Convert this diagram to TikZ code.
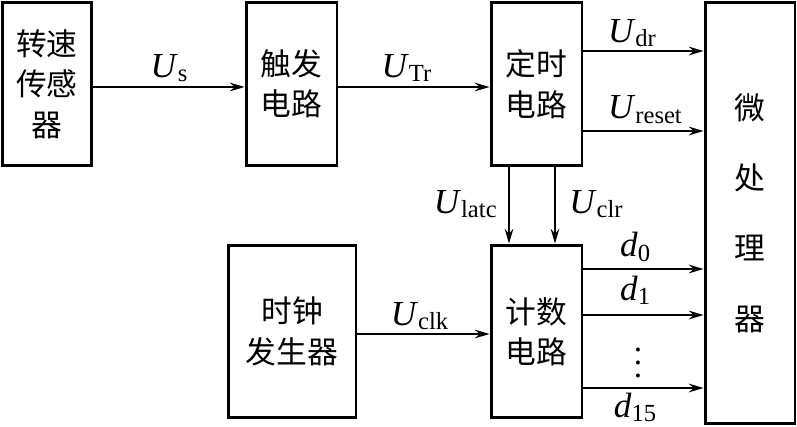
\documentclass[tikz,border=0pt]{standalone}
\usepackage{fontspec}
\setmainfont{Liberation Serif}
\newfontfamily\cjk{Noto Sans CJK SC}
\usetikzlibrary{arrows.meta,positioning}

% signal name with lowered subscript
\newcommand{\sig}[2]{\textit{#1}{\fontsize{14}{14}\selectfont\raisebox{-2.5pt}{#2}}}

\begin{document}
\begin{tikzpicture}[
  x=0.02cm, y=-0.02cm,
  block/.style={draw, line width=1.7pt, align=center, inner sep=0pt,
    font=\cjk\fontsize{17.5}{23}\selectfont},
  sigarrow/.style={-{Stealth[length=8.5pt,width=5pt,inset=3pt]}, line width=0.7pt},
  lab/.style={inner sep=0pt, font=\fontsize{20}{22}\selectfont}
]
\useasboundingbox (0,0) rectangle (797,426);

% blocks
\node[block, minimum width=1.8cm, minimum height=3.28cm] (sensor) at (47,84) {转速\\传感\\器};
\node[block, minimum width=1.82cm, minimum height=3.28cm] (trigger) at (291.5,84) {触发\\电路};
\node[block, minimum width=1.82cm, minimum height=3.28cm] (timer) at (536.5,84) {定时\\电路};
\node[block, minimum width=1.8cm, minimum height=8.42cm] (mcu) at (750,213) {微\\[0.6cm]处\\[0.6cm]理\\[0.6cm]器};
\node[block, minimum width=2.56cm, minimum height=3.46cm] (clock) at (292,331.5) {时钟\\发生器};
\node[block, minimum width=1.82cm, minimum height=3.46cm] (counter) at (536.5,331.5) {计数\\电路};

% signals
\draw[sigarrow] (sensor.east |- 0,87) -- node[lab, anchor=base, yshift=5.5pt] (us) {\sig{U}{s}} (trigger.west |- 0,87);
\draw[sigarrow] (trigger.east |- 0,87) -- node[lab, anchor=base, yshift=5.5pt, pos=0.45] (utr) {\sig{U}{Tr}} (timer.west |- 0,87);
\draw[sigarrow] (timer.east |- 0,51) -- node[lab, anchor=base west, yshift=5pt, pos=0.2] (udr) {\sig{U}{dr}} (mcu.west |- 0,51);
\draw[sigarrow] (timer.east |- 0,131) -- node[lab, anchor=base west, yshift=7pt, pos=0.2] (ureset) {\sig{U}{reset}} (mcu.west |- 0,131);
\draw[sigarrow] (timer.south -| 509,0) -- (counter.north -| 509,0);
\draw[sigarrow] (timer.south -| 555,0) -- (counter.north -| 555,0);
\node[lab, anchor=base east] (ulatc) at (497,213) {\sig{U}{latc}};
\node[lab, anchor=base west] (uclr) at (569,213) {\sig{U}{clr}};
\draw[sigarrow] (clock.east |- 0,334) -- node[lab, anchor=base, yshift=5pt, pos=0.47] (uclk) {\sig{U}{clk}} (counter.west |- 0,334);

% data lines
\draw[sigarrow] (counter.east |- 0,269) -- node[lab, anchor=base, yshift=7pt, pos=0.43] (d0) {\sig{d}{0}} (mcu.west |- 0,269);
\draw[sigarrow] (counter.east |- 0,315) -- node[lab, anchor=base, yshift=8.5pt, pos=0.43] (d1) {\sig{d}{1}} (mcu.west |- 0,315);
\draw[sigarrow] (counter.east |- 0,388) -- node[lab, anchor=north, yshift=-2.5pt, pos=0.43] (d15) {\sig{d}{15}} (mcu.west |- 0,388);
\node[inner sep=0pt, scale=1.9] (dots) at (638,353) {$\vdots$};

\end{tikzpicture}
\end{document}
